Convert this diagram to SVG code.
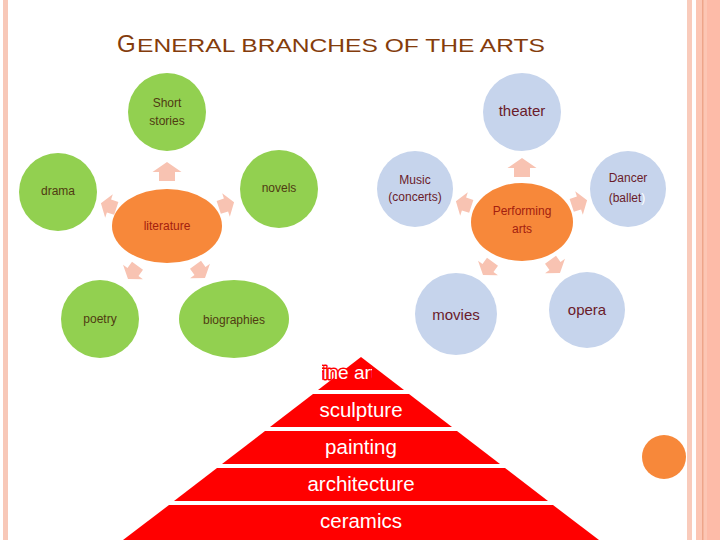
<svg xmlns="http://www.w3.org/2000/svg" xmlns:xlink="http://www.w3.org/1999/xlink" width="720" height="540" viewBox="0 0 720 540">
<style>
  text { font-family: "Liberation Sans", Arial, sans-serif; text-anchor: middle; }
  .green { fill: #92d050; }
  .blue { fill: #c6d4ec; }
  .orange { fill: #f7883a; }
  .arrow { fill: #f8c3b2; }
  .tg { fill: #4f3a12; font-size: 12px; }
  .tb { fill: #6a1b2a; font-size: 12px; }
  .tbl { fill: #6a1b2a; font-size: 15px; }
  .to { fill: #a3200f; font-size: 12px; }
  .lay { fill: #ff0000; }
  .tp { fill: #ffffff; font-size: 20.5px; }
</style>
<defs>
  <polygon id="arr" points="0,-10 14.5,0 8,0 8,9 -8,9 -8,0 -14.5,0"/>
  <clipPath id="fineClip">
    <rect x="322" y="357" width="50" height="33"/>
  </clipPath>
</defs>

<!-- background decoration -->
<rect x="3" y="0" width="5" height="540" fill="#f8c8b8"/>
<rect x="687" y="0" width="5" height="540" fill="#f9cbbb"/>
<rect x="696" y="0" width="24" height="540" fill="#fcc6b4"/>
<rect x="707" y="0" width="13" height="540" fill="#fdbba8"/>
<rect x="702" y="0" width="1.5" height="540" fill="#eea58a"/>

<!-- title -->
<g id="title">
  <text x="117" y="52" style="text-anchor:start;font-size:24px" fill="#843c0c">G</text>
  <text x="137" y="52" style="text-anchor:start;font-size:18px" fill="#843c0c" textLength="408" lengthAdjust="spacingAndGlyphs">ENERAL BRANCHES OF THE ARTS</text>
</g>

<!-- connectors (block arrows) -->
<g id="connectors" class="arrow">
  <use xlink:href="#arr" href="#arr" transform="translate(167,172)"/>
  <use xlink:href="#arr" href="#arr" transform="translate(226,205) rotate(72) scale(0.85)"/>
  <use xlink:href="#arr" href="#arr" transform="translate(109,206) rotate(-72) scale(0.85)"/>
  <use xlink:href="#arr" href="#arr" transform="translate(200,271) rotate(144) scale(0.85)"/>
  <use xlink:href="#arr" href="#arr" transform="translate(133,272) rotate(-144) scale(0.85)"/>

  <use xlink:href="#arr" href="#arr" transform="translate(522,168)"/>
  <use xlink:href="#arr" href="#arr" transform="translate(579,203) rotate(72) scale(0.85)"/>
  <use xlink:href="#arr" href="#arr" transform="translate(464,204) rotate(-72) scale(0.85)"/>
  <use xlink:href="#arr" href="#arr" transform="translate(555,266) rotate(144) scale(0.85)"/>
  <use xlink:href="#arr" href="#arr" transform="translate(488,268) rotate(-144) scale(0.85)"/>
</g>

<!-- literature group -->
<g id="short-stories">
  <circle class="green" cx="167" cy="112" r="39"/>
  <text class="tg" x="167" y="107">Short</text>
  <text class="tg" x="167" y="125">stories</text>
</g>
<g id="drama">
  <circle class="green" cx="58" cy="192" r="39"/>
  <text class="tg" x="58" y="195">drama</text>
</g>
<g id="novels">
  <circle class="green" cx="279" cy="189" r="39"/>
  <text class="tg" x="279" y="192">novels</text>
</g>
<g id="literature">
  <ellipse class="orange" cx="167" cy="226" rx="55" ry="37"/>
  <text class="to" x="167" y="230">literature</text>
</g>
<g id="poetry">
  <circle class="green" cx="100" cy="319" r="39"/>
  <text class="tg" x="100" y="323">poetry</text>
</g>
<g id="biographies">
  <ellipse class="green" cx="234" cy="319" rx="55" ry="39"/>
  <text class="tg" x="234" y="324">biographies</text>
</g>

<!-- performing arts group -->
<g id="theater">
  <circle class="blue" cx="522" cy="112" r="39"/>
  <text class="tbl" x="522" y="116">theater</text>
</g>
<g id="music">
  <circle class="blue" cx="415" cy="189" r="38"/>
  <text class="tb" x="415" y="184">Music</text>
  <text class="tb" x="415" y="201">(concerts)</text>
</g>
<g id="dancer">
  <circle class="blue" cx="628" cy="189" r="38"/>
  <text class="tb" x="628" y="182">Dancer</text>
  <text class="tb" x="627" y="202">(ballet<tspan fill="#ffffff">)</tspan></text>
</g>
<g id="performing-arts">
  <ellipse class="orange" cx="522" cy="222" rx="51" ry="39"/>
  <text class="to" x="522" y="215">Performing</text>
  <text class="to" x="522" y="233">arts</text>
</g>
<g id="movies">
  <circle class="blue" cx="456" cy="314" r="41"/>
  <text class="tbl" x="456" y="320">movies</text>
</g>
<g id="opera">
  <circle class="blue" cx="587" cy="310" r="38"/>
  <text class="tbl" x="587" y="315">opera</text>
</g>

<!-- fine arts pyramid -->
<g id="fine-arts">
  <polygon class="lay" points="361,357 404,390 318,390"/>
  <text class="tp" x="318" y="379" clip-path="url(#fineClip)" style="text-anchor:start;font-size:19px;stroke:#ff0000;stroke-width:3;paint-order:stroke;stroke-linejoin:round">fine arts</text>
</g>
<g id="sculpture">
  <polygon class="lay" points="313,394 409,394 452,427 270,427"/>
  <text class="tp" x="361" y="417">sculpture</text>
</g>
<g id="painting">
  <polygon class="lay" points="265,431 457,431 500,464 222,464"/>
  <text class="tp" x="361" y="454">painting</text>
</g>
<g id="architecture">
  <polygon class="lay" points="217,468 505,468 548,501 174,501"/>
  <text class="tp" x="361" y="491">architecture</text>
</g>
<g id="ceramics">
  <polygon class="lay" points="169,505 553,505 599,540 123,540"/>
  <text class="tp" x="361" y="528">ceramics</text>
</g>

<!-- decorative dot -->
<circle cx="664" cy="457" r="22" fill="#f7883a"/>
</svg>
